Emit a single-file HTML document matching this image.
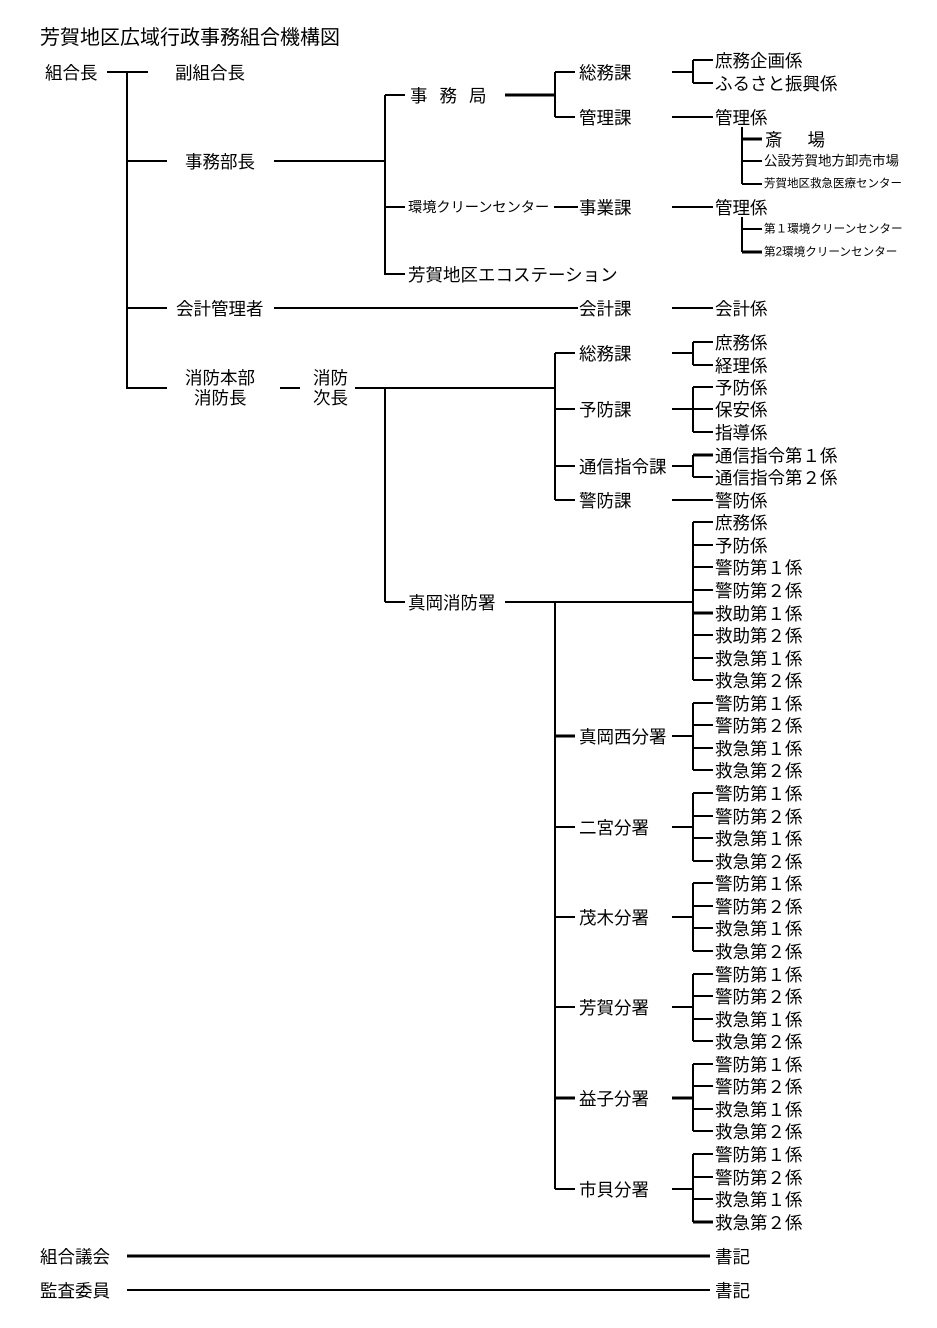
<!DOCTYPE html>
<html><head><meta charset="utf-8"><style>
html,body{margin:0;padding:0;background:#fff}
svg{display:block}
text{font-family:"Liberation Sans","Noto Sans CJK JP",sans-serif;font-size:17.5px;fill:#000;dominant-baseline:central}
line{stroke:#000;stroke-width:2}
</style></head><body>
<svg width="937" height="1328" viewBox="0 0 937 1328" xmlns="http://www.w3.org/2000/svg">
<text x="40" y="38" style="font-size:20px">芳賀地区広域行政事務組合機構図</text>
<text x="45" y="73">組合長</text>
<line x1="107" y1="72" x2="148" y2="72"/>
<line x1="127" y1="72" x2="127" y2="389"/>
<text x="175" y="73">副組合長</text>
<line x1="127" y1="161" x2="167" y2="161"/>
<text x="185" y="162">事務部長</text>
<line x1="274" y1="161" x2="385" y2="161"/>
<line x1="385" y1="95" x2="385" y2="275"/>
<line x1="385" y1="95" x2="405" y2="95"/>
<line x1="385" y1="207" x2="405" y2="207"/>
<line x1="385" y1="274" x2="405" y2="274"/>
<text x="410" y="96" style="letter-spacing:12px">事務局</text>
<line x1="505" y1="95" x2="555" y2="95" style="stroke-width:3"/>
<line x1="555" y1="72" x2="555" y2="117"/>
<line x1="555" y1="72" x2="575" y2="72"/>
<line x1="555" y1="117" x2="575" y2="117"/>
<text x="579" y="73">総務課</text>
<text x="579" y="118">管理課</text>
<line x1="672" y1="72" x2="693" y2="72"/>
<line x1="693" y1="60" x2="693" y2="83"/>
<line x1="693" y1="60" x2="713" y2="60"/>
<line x1="693" y1="83" x2="713" y2="83"/>
<text x="715" y="61">庶務企画係</text>
<text x="715" y="84">ふるさと振興係</text>
<line x1="672" y1="117" x2="713" y2="117"/>
<text x="715" y="118">管理係</text>
<line x1="742" y1="127" x2="742" y2="184"/>
<line x1="742" y1="139" x2="762" y2="139" style="stroke-width:3"/>
<line x1="742" y1="161" x2="762" y2="161"/>
<line x1="742" y1="184" x2="762" y2="184"/>
<text x="765" y="140" style="letter-spacing:25px">斎場</text>
<text x="764" y="161" style="font-size:13.5px">公設芳賀地方卸売市場</text>
<text x="764" y="184" style="font-size:11.5px">芳賀地区救急医療センター</text>
<text x="408" y="208" style="font-size:14.2px">環境クリーンセンター</text>
<line x1="554" y1="207" x2="578" y2="207"/>
<text x="579" y="208">事業課</text>
<line x1="672" y1="207" x2="713" y2="207"/>
<text x="715" y="208">管理係</text>
<line x1="742" y1="217" x2="742" y2="252"/>
<line x1="742" y1="229" x2="762" y2="229"/>
<line x1="742" y1="252" x2="762" y2="252" style="stroke-width:3"/>
<text x="764" y="229" style="font-size:11.6px">第１環境クリーンセンター</text>
<text x="764" y="252" style="font-size:11.6px">第2環境クリーンセンター</text>
<text x="408" y="275">芳賀地区エコステーション</text>
<line x1="127" y1="308" x2="167" y2="308"/>
<text x="176" y="309">会計管理者</text>
<line x1="274" y1="308" x2="578" y2="308"/>
<text x="579" y="309">会計課</text>
<line x1="672" y1="308" x2="713" y2="308"/>
<text x="715" y="309">会計係</text>
<line x1="127" y1="388" x2="167" y2="388"/>
<text x="185" y="378">消防本部</text>
<text x="194" y="398">消防長</text>
<line x1="280" y1="388" x2="300" y2="388"/>
<text x="313" y="378">消防</text>
<text x="313" y="398">次長</text>
<line x1="355" y1="388" x2="555" y2="388"/>
<line x1="385" y1="388" x2="385" y2="602"/>
<line x1="555" y1="353" x2="555" y2="500"/>
<line x1="555" y1="353" x2="575" y2="353"/>
<line x1="555" y1="409" x2="575" y2="409"/>
<line x1="555" y1="466" x2="575" y2="466"/>
<line x1="555" y1="500" x2="575" y2="500"/>
<text x="579" y="354">総務課</text>
<text x="579" y="410">予防課</text>
<text x="579" y="467">通信指令課</text>
<text x="579" y="501">警防課</text>
<line x1="672" y1="353" x2="693" y2="353"/>
<line x1="693" y1="342" x2="693" y2="365"/>
<line x1="693" y1="342" x2="713" y2="342"/>
<line x1="693" y1="365" x2="713" y2="365"/>
<text x="715" y="343">庶務係</text>
<text x="715" y="366">経理係</text>
<line x1="672" y1="409" x2="713" y2="409"/>
<line x1="693" y1="387" x2="693" y2="432"/>
<line x1="693" y1="387" x2="713" y2="387"/>
<line x1="693" y1="432" x2="713" y2="432"/>
<text x="715" y="388">予防係</text>
<text x="715" y="410">保安係</text>
<text x="715" y="433">指導係</text>
<line x1="672" y1="466" x2="693" y2="466"/>
<line x1="693" y1="455" x2="693" y2="477"/>
<line x1="693" y1="455" x2="713" y2="455" style="stroke-width:3"/>
<line x1="693" y1="477" x2="713" y2="477"/>
<text x="715" y="456">通信指令第１係</text>
<text x="715" y="478">通信指令第２係</text>
<line x1="672" y1="500" x2="713" y2="500"/>
<text x="715" y="501">警防係</text>
<line x1="385" y1="602" x2="405" y2="602"/>
<text x="408" y="603">真岡消防署</text>
<line x1="505" y1="602" x2="693" y2="602"/>
<line x1="693" y1="522" x2="693" y2="680"/>
<g>
<line x1="693" y1="522" x2="713" y2="522"/><text x="715" y="523">庶務係</text>
<line x1="693" y1="545" x2="713" y2="545"/><text x="715" y="546">予防係</text>
<line x1="693" y1="567" x2="713" y2="567"/><text x="715" y="568">警防第１係</text>
<line x1="693" y1="590" x2="713" y2="590"/><text x="715" y="591">警防第２係</text>
<line x1="693" y1="613" x2="713" y2="613" style="stroke-width:3"/><text x="715" y="614">救助第１係</text>
<line x1="693" y1="635" x2="713" y2="635"/><text x="715" y="636">救助第２係</text>
<line x1="693" y1="658" x2="713" y2="658"/><text x="715" y="659">救急第１係</text>
<line x1="693" y1="680" x2="713" y2="680"/><text x="715" y="681">救急第２係</text>
</g>
<line x1="555" y1="602" x2="555" y2="1189"/>
<g>
<line x1="555" y1="736" x2="575" y2="736" style="stroke-width:3"/><text x="579" y="737">真岡西分署</text>
<line x1="672" y1="736" x2="693" y2="736"/><line x1="693" y1="703" x2="693" y2="770"/>
<line x1="693" y1="703" x2="713" y2="703"/><text x="715" y="704">警防第１係</text>
<line x1="693" y1="725" x2="713" y2="725"/><text x="715" y="726">警防第２係</text>
<line x1="693" y1="748" x2="713" y2="748"/><text x="715" y="749">救急第１係</text>
<line x1="693" y1="770" x2="713" y2="770"/><text x="715" y="771">救急第２係</text>
</g>
<g>
<line x1="555" y1="827" x2="575" y2="827"/><text x="579" y="828">二宮分署</text>
<line x1="672" y1="827" x2="693" y2="827"/><line x1="693" y1="793" x2="693" y2="861"/>
<line x1="693" y1="793" x2="713" y2="793"/><text x="715" y="794">警防第１係</text>
<line x1="693" y1="816" x2="713" y2="816"/><text x="715" y="817">警防第２係</text>
<line x1="693" y1="838" x2="713" y2="838"/><text x="715" y="839">救急第１係</text>
<line x1="693" y1="861" x2="713" y2="861"/><text x="715" y="862">救急第２係</text>
</g>
<g>
<line x1="555" y1="917" x2="575" y2="917"/><text x="579" y="918">茂木分署</text>
<line x1="672" y1="917" x2="693" y2="917"/><line x1="693" y1="883" x2="693" y2="951"/>
<line x1="693" y1="883" x2="713" y2="883"/><text x="715" y="884">警防第１係</text>
<line x1="693" y1="906" x2="713" y2="906"/><text x="715" y="907">警防第２係</text>
<line x1="693" y1="928" x2="713" y2="928"/><text x="715" y="929">救急第１係</text>
<line x1="693" y1="951" x2="713" y2="951"/><text x="715" y="952">救急第２係</text>
</g>
<g>
<line x1="555" y1="1007" x2="575" y2="1007"/><text x="579" y="1008">芳賀分署</text>
<line x1="672" y1="1007" x2="693" y2="1007"/><line x1="693" y1="974" x2="693" y2="1041"/>
<line x1="693" y1="974" x2="713" y2="974"/><text x="715" y="975">警防第１係</text>
<line x1="693" y1="996" x2="713" y2="996"/><text x="715" y="997">警防第２係</text>
<line x1="693" y1="1019" x2="713" y2="1019"/><text x="715" y="1020">救急第１係</text>
<line x1="693" y1="1041" x2="713" y2="1041"/><text x="715" y="1042">救急第２係</text>
</g>
<g>
<line x1="555" y1="1098" x2="575" y2="1098" style="stroke-width:3"/><text x="579" y="1099">益子分署</text>
<line x1="672" y1="1098" x2="693" y2="1098" style="stroke-width:3"/><line x1="693" y1="1064" x2="693" y2="1131"/>
<line x1="693" y1="1064" x2="713" y2="1064"/><text x="715" y="1065">警防第１係</text>
<line x1="693" y1="1086" x2="713" y2="1086"/><text x="715" y="1087">警防第２係</text>
<line x1="693" y1="1109" x2="713" y2="1109"/><text x="715" y="1110">救急第１係</text>
<line x1="693" y1="1131" x2="713" y2="1131"/><text x="715" y="1132">救急第２係</text>
</g>
<g>
<line x1="555" y1="1189" x2="575" y2="1189"/><text x="579" y="1190">市貝分署</text>
<line x1="672" y1="1189" x2="693" y2="1189"/><line x1="693" y1="1154" x2="693" y2="1222"/>
<line x1="693" y1="1154" x2="713" y2="1154"/><text x="715" y="1155">警防第１係</text>
<line x1="693" y1="1177" x2="713" y2="1177"/><text x="715" y="1178">警防第２係</text>
<line x1="693" y1="1199" x2="713" y2="1199"/><text x="715" y="1200">救急第１係</text>
<line x1="693" y1="1222" x2="713" y2="1222" style="stroke-width:3"/><text x="715" y="1223">救急第２係</text>
</g>
<text x="40" y="1257">組合議会</text>
<line x1="127" y1="1256" x2="710" y2="1256" style="stroke-width:3"/>
<text x="715" y="1257">書記</text>
<text x="40" y="1291">監査委員</text>
<line x1="127" y1="1290" x2="710" y2="1290"/>
<text x="715" y="1291">書記</text>
</svg>
</body></html>
